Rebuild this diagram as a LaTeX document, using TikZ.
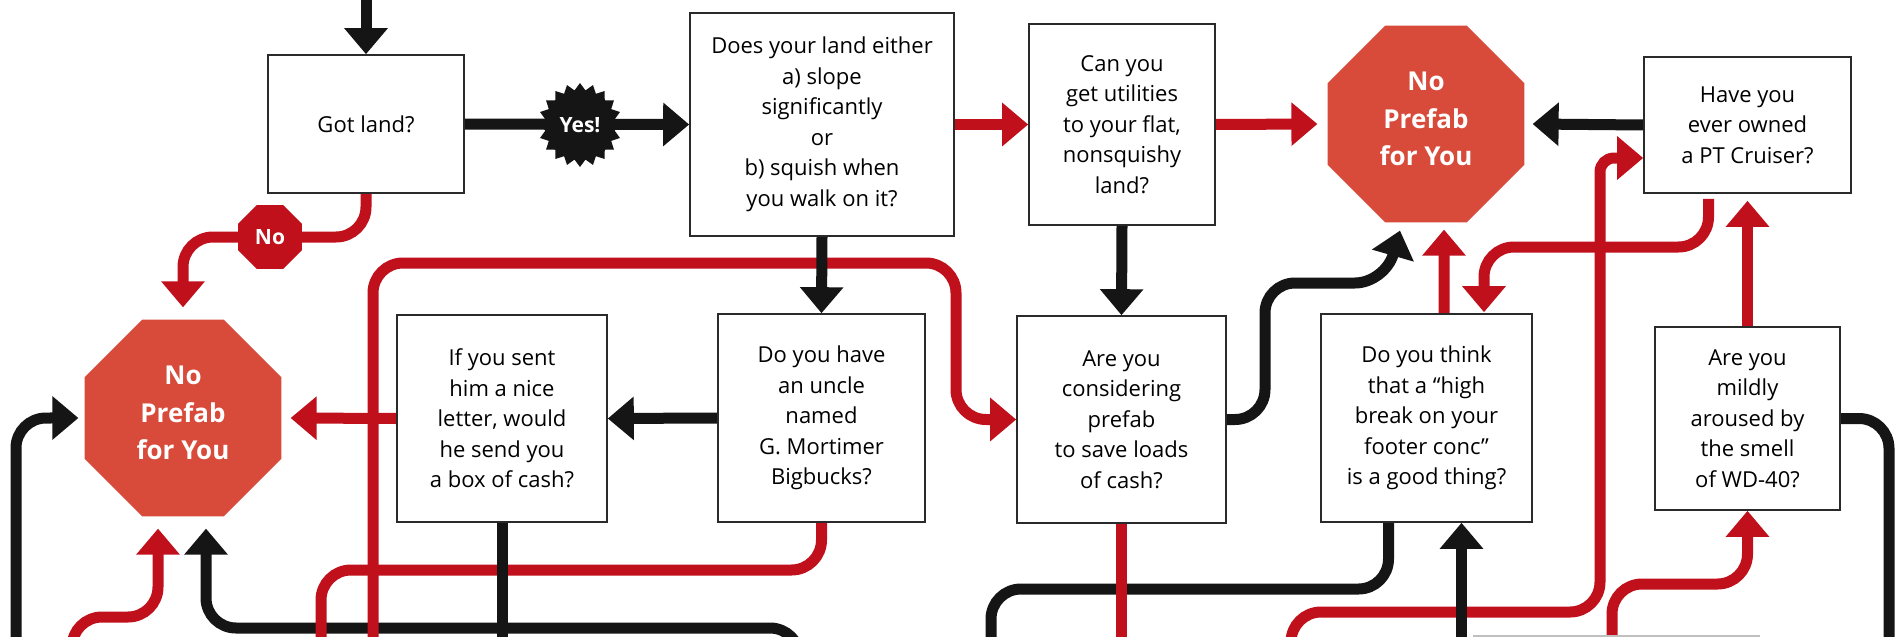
\documentclass[tikz,border=0pt]{standalone}
\usepackage{fontspec}
\setmainfont{Open Sans}
\usetikzlibrary{arrows.meta,shapes.geometric,calc}
\definecolor{linered}{HTML}{C0101C}
\definecolor{stopred}{HTML}{D84B3B}
\definecolor{inkblack}{HTML}{151515}
\definecolor{boxline}{HTML}{2A2A2A}
\newcommand\bxfont{\fontsize{22}{30.5}\selectfont}
\newcommand\octfnt{\fontsize{26}{37.5}\selectfont\bfseries}
\pgfdeclarelayer{bg}
\pgfsetlayers{bg,main}
\begin{document}
\begin{tikzpicture}[x=1pt,y=-1pt,
  box/.style={draw=boxline,line width=1.6pt,fill=white,align=center,font=\bxfont,inner sep=0pt},
  stopsign/.style={regular polygon,regular polygon sides=8,fill=stopred,text=white,font=\octfnt,align=center,minimum size=213pt,inner sep=0pt,text depth=10pt},
  conn/.style={line width=11pt,rounded corners=30pt},
  blk/.style={conn,draw=inkblack},
  rd/.style={conn,draw=linered},
  tip/.style={-{Triangle[width=42pt,length=26pt]}},
]
\useasboundingbox (0,0) rectangle (1896,637);

% boxes
\node[box,minimum width=196pt,minimum height=138pt] (gotland) at (366,124) {Got land?};
\node[box,minimum width=264pt,minimum height=223pt] (doesland) at (822,124.5) {Does your land either\\a) slope\\significantly\\or\\b) squish when\\you walk on it?};
\node[box,minimum width=186pt,minimum height=201pt] (canyou) at (1122,124.5) {Can you\\get utilities\\to your flat,\\nonsquishy\\land?};
\node[stopsign] (oct2) at (1426,124) {No\\Prefab\\for You};
\node[box,minimum width=207pt,minimum height=136pt] (haveyou) at (1747.5,125) {Have you\\ever owned\\a PT Cruiser?};
\node[stopsign] (oct1) at (183,418) {No\\Prefab\\for You};
\node[box,minimum width=210pt,minimum height=207pt] (ifyousent) at (502,418.5) {If you sent\\him a nice\\letter, would\\he send you\\a box of cash?};
\node[box,minimum width=207pt,minimum height=208pt] (uncle) at (821.5,418) {Do you have\\an uncle\\named\\G. Mortimer\\Bigbucks?};
\node[box,minimum width=209pt,minimum height=207pt] (areyou) at (1121.5,419.5) {Are you\\considering\\prefab\\to save loads\\of cash?};
\node[box,minimum width=211pt,minimum height=208pt] (dothink) at (1426.5,418) {Do you think\\that a “high\\break on your\\footer conc”\\is a good thing?};
\node[box,minimum width=185pt,minimum height=183pt] (mildly) at (1747.5,418.5) {Are you\\mildly\\aroused by\\the smell\\of WD-40?};
\node[regular polygon,regular polygon sides=8,fill=linered,text=white,font=\fontsize{21}{21}\selectfont\bfseries,minimum size=69pt,inner sep=0pt] (nooct) at (270,237) {No};
\node[star,star points=20,star point ratio=1.2,minimum size=84pt,fill=inkblack,text=white,font=\fontsize{21}{21}\selectfont\bfseries,inner sep=0pt] (yes) at (580,125) {Yes!};

% free ends
\coordinate (ktop) at (366,-20);
\coordinate (kleft) at (16,680);
\coordinate (kbot) at (800,680);
\coordinate (kdt) at (991,680);
\coordinate (kright) at (1889,680);
\coordinate (kdt2) at (1461.5,680);
\coordinate (kif) at (502,680);
\coordinate (rloop) at (373,680);
\coordinate (runc) at (321,680);
\coordinate (rare) at (1121.5,680);
\coordinate (rbl) at (72,680);
\coordinate (rpt) at (1291,680);
\coordinate (rmild) at (1612,680);

\begin{pgfonlayer}{bg}
\fill[white] (0,0) rectangle (1896,637);
\clip (0,0) rectangle (1896,637);
% black connectors
\draw[blk,tip] (ktop) -- (gotland.north);
\draw[blk,tip] (gotland.east) -- (doesland.west);
\draw[blk,tip] (haveyou.west) -- ($(oct2.east)+(8,0)$);
\draw[blk,tip] (kleft) -- (16,418) -- ($(oct1.west)+(-6,0)$);
\draw[blk,tip] (kbot) -- (800,628) -- (206,628) -- ($(oct1.south)+(23,12)$);
\draw[blk] ($(dothink.south)+(-38,0)$) -- (1388.5,589) -- (991,589) -- (kdt);
\draw[blk,tip] (areyou.east) -- (1265,419.5) -- (1265,283) -- (1385,283) -- ($(oct2.south)+(-26,8)$);
\draw[blk] (mildly.east) -- (1889,418.5) -- (kright);
\draw[blk,tip] (uncle.west) -- (ifyousent.east);
% red connectors
\draw[rd] (gotland.south) |- (nooct.east);
\draw[rd,tip] (nooct.west) -| ($(oct1.north)+(0,-12)$);
\draw[rd,tip] (doesland.east) -- (canyou.west);
\draw[rd,tip] (canyou.east) -- ($(oct2.west)+(-10,0)$);
\draw[rd,tip] (ifyousent.west) -- ($(oct1.east)+(9,0)$);
\draw[rd,tip] (rloop) -- (373,263) -- (956,263) -- (956,419.5) -- (areyou.west);
\draw[rd] (uncle.south) -- (821.5,570) -- (321,570) -- (runc);
\draw[rd] (areyou.south) -- (rare);
\draw[rd,tip] (rbl) -- (72,617) -- (158,617) -- ($(oct1.south)+(-25,12)$);
\draw[rd,tip] (rpt) -- (1291,612) -- (1600,612) [rounded corners=14pt] -- (1600,158) -- ($(haveyou.west)+(0,33)$);
\draw[rd,tip] (rmild) -- (1612,584) -- (1747.5,584) -- (mildly.south);
\draw[rd,tip] (mildly.north) -- ($(haveyou.south)+(0,7)$);
\draw[rd,tip] ($(haveyou.south)+(-39,5)$) -- (1708.5,247) -- (1484,247) -- ($(dothink.north)+(57.5,-1)$);
\draw[rd,tip] ($(dothink.north)+(17.5,0)$) -- ($(oct2.south)+(18,7)$);
% black connectors on top
\draw[blk,tip] (doesland.south) -- (uncle.north);
\draw[blk,tip] (canyou.south) -- (areyou.north);
\draw[blk,tip] (kdt2) -- ($(dothink.south)+(35,0)$);
\draw[blk] (ifyousent.south) -- (kif);
\draw[black!25,line width=3pt] (1473,636) -- (1760,636);
\end{pgfonlayer}
\end{tikzpicture}
\end{document}
